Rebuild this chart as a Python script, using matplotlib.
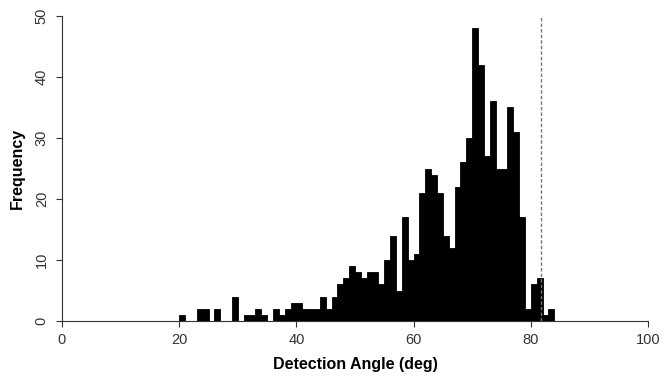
import numpy as np
import matplotlib
matplotlib.use("Agg")
import matplotlib.pyplot as plt

plt.rcParams["font.family"] = ["Liberation Sans", "DejaVu Sans"]

# Histogram of detection angles, 1-degree bins (left edges) and counts
bin_left = list(range(20, 84))
counts = [1, 0, 0, 2, 2, 0, 2, 0, 0, 4,
          0, 1, 1, 2, 1, 0, 2, 1, 2, 3,
          3, 2, 2, 2, 4, 2, 4, 6, 7, 9,
          8, 7, 8, 8, 6, 10, 14, 5, 17, 10,
          11, 21, 25, 24, 21, 14, 12, 22, 26, 30,
          48, 42, 27, 36, 25, 25, 35, 31, 17, 2,
          6, 7, 1, 2]
cutoff_angle = 81.75
x_ticks = [0, 20, 40, 60, 80, 100]
y_ticks = [0, 10, 20, 30, 40, 50]

W, H = 669, 378
fig = plt.figure(figsize=(W / 100, H / 100), dpi=100)
ax = fig.add_axes([62 / W, (H - 321) / H, (648 - 62) / W, (321 - 16) / H])

ax.bar(bin_left, counts, width=1, align="edge", color="black",
       edgecolor="black", linewidth=0.6)
ax.axvline(cutoff_angle, ymin=0, ymax=1, color="#777777", linestyle=(0, (2.5, 1.5)),
           linewidth=1)

ax.set_xlim(0, 100)
ax.set_ylim(0, 50)
ax.set_xticks(x_ticks)
ax.set_yticks(y_ticks)
ax.set_yticklabels([str(v) for v in y_ticks], rotation=90, va="center")

for side in ["top", "right"]:
    ax.spines[side].set_visible(False)
for side in ["left", "bottom"]:
    ax.spines[side].set_color("#333333")
    ax.spines[side].set_linewidth(0.8)

ax.tick_params(axis="both", direction="out", length=4, width=0.8,
               colors="#333333", labelsize=10.5, labelcolor="#333333")
ax.tick_params(axis="x", pad=5)
ax.tick_params(axis="y", pad=5.5)

ax.set_xlabel("Detection Angle (deg)", fontsize=11.5, fontweight="bold", labelpad=7)
ax.set_ylabel("Frequency", fontsize=11.5, fontweight="bold", labelpad=7)

fig.savefig("out.png", dpi=100)
